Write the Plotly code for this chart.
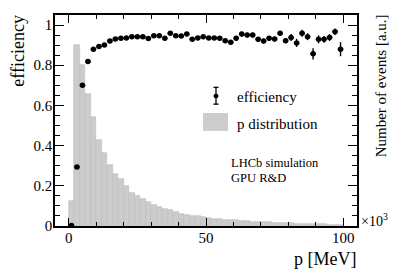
import plotly.graph_objects as go

# ---- data ----
bin_centers = [1 + 2 * i for i in range(50)]
p_distribution = [0.123, 0.901, 0.803, 0.658, 0.543, 0.430, 0.364, 0.305, 0.260, 0.232,
                  0.199, 0.164, 0.150, 0.135, 0.120, 0.104, 0.093, 0.087, 0.079, 0.068,
                  0.060, 0.054, 0.051, 0.048, 0.044, 0.040, 0.037, 0.034, 0.032, 0.030,
                  0.028, 0.026, 0.024, 0.022, 0.021, 0.019, 0.018, 0.017, 0.016, 0.015,
                  0.013, 0.012, 0.011, 0.010, 0.009, 0.008, 0.008, 0.007, 0.006, 0.005]
efficiency = [0.002, 0.293, 0.700, 0.819, 0.880, 0.893, 0.901, 0.921, 0.931, 0.934,
              0.936, 0.942, 0.942, 0.942, 0.933, 0.947, 0.947, 0.934, 0.959, 0.947,
              0.945, 0.955, 0.929, 0.936, 0.942, 0.936, 0.936, 0.934, 0.922, 0.914,
              0.934, 0.955, 0.950, 0.950, 0.929, 0.921, 0.934, 0.931, 0.959, 0.922,
              0.938, 0.911, 0.959, 0.942, 0.857, 0.929, 0.929, 0.938, 0.967, 0.880]
efficiency_err = [0.002, 0.005, 0.005, 0.003, 0.003, 0.003, 0.003, 0.003, 0.003, 0.003,
                  0.005, 0.005, 0.005, 0.005, 0.005, 0.005, 0.005, 0.005, 0.005, 0.005,
                  0.008, 0.008, 0.008, 0.008, 0.008, 0.008, 0.008, 0.008, 0.008, 0.008,
                  0.012, 0.012, 0.012, 0.012, 0.012, 0.012, 0.012, 0.012, 0.013, 0.012,
                  0.017, 0.020, 0.017, 0.017, 0.028, 0.020, 0.017, 0.017, 0.016, 0.035]
x_ticks = [0, 50, 100]

FONT = "Liberation Serif, Times New Roman, serif"

# page offset (default body margin) and plot area in page pixels
OFF = 8
W, H = 399 - OFF, 270 - OFF
L, R, T, B = 55, 357, 13, 226
def px(x):
    return (x - L) / (R - L)
def py(y):
    return (B - y) / (B - T)

fig = go.Figure()
fig.add_trace(go.Bar(x=bin_centers, y=p_distribution, width=2,
                     marker=dict(color="#cccccc", line=dict(color="#bcbcbc", width=0.6)),
                     showlegend=False))
fig.add_trace(go.Scatter(x=bin_centers, y=efficiency, mode="markers",
                         marker=dict(color="black", size=5.5),
                         error_y=dict(type="data", array=efficiency_err, color="black",
                                      thickness=1.4, width=0),
                         error_x=dict(type="constant", value=1, color="black",
                                      thickness=1.4, width=0),
                         showlegend=False))

axis_common = dict(showline=True, linecolor="black", linewidth=1.5, mirror="ticks",
                   ticks="inside", tickcolor="black", tickwidth=1.2, showgrid=False,
                   zeroline=False, tickfont=dict(family=FONT, size=15, color="black"))
fig.update_xaxes(range=[-5, 105], tickmode="array", tickvals=x_ticks, ticklen=8,
                 ticklabelstandoff=-3,
                 minor=dict(tickmode="linear", tick0=0, dtick=10, ticklen=4, ticks="inside",
                            tickcolor="black", tickwidth=1.2),
                 **axis_common)
fig.update_yaxes(range=[0, 1.05], tick0=0, dtick=0.2, ticklen=9,
                 ticklabelstandoff=-2,
                 minor=dict(dtick=0.05, ticklen=5, ticks="inside",
                            tickcolor="black", tickwidth=1.2),
                 **axis_common)

ann = []
def text(x, y, s, size, xanchor="left", angle=0, yanchor="middle"):
    ann.append(dict(x=px(x), y=py(y), xref="paper", yref="paper", text=s, showarrow=False,
                    xanchor=xanchor, yanchor=yanchor, textangle=angle,
                    font=dict(family=FONT, size=size, color="black")))

text(18, 49, "efficiency", 18, xanchor="center", angle=-90)
text(381, 85, "Number of events [a.u.]", 15, xanchor="center", angle=-90)
text(358, 259, "p [MeV]", 18, xanchor="right")
text(359, 220, "×10<sup>3</sup>", 14)
text(235, 96, "efficiency", 15)
text(235, 123, "p distribution", 15)
text(229, 162, "LHCb simulation", 12.5)
text(229, 178, "GPU R&D", 12.5)

shapes = [
    dict(type="rect", xref="paper", yref="paper", x0=px(203), x1=px(228), y0=py(112), y1=py(130),
         fillcolor="#cccccc", line=dict(width=0)),
    dict(type="line", xref="paper", yref="paper", x0=px(216), x1=px(216), y0=py(86), y1=py(103),
         line=dict(color="black", width=1.3)),
    dict(type="line", xref="paper", yref="paper", x0=px(213.5), x1=px(218.5), y0=py(86), y1=py(86),
         line=dict(color="black", width=1.3)),
    dict(type="line", xref="paper", yref="paper", x0=px(213.5), x1=px(218.5), y0=py(103), y1=py(103),
         line=dict(color="black", width=1.3)),
    dict(type="circle", xref="paper", yref="paper", x0=px(213.5), x1=px(218.5), y0=py(92.5), y1=py(97),
         fillcolor="black", line=dict(width=0)),
]

fig.update_layout(width=W, height=H, font=dict(family=FONT, color="black"),
                  margin=dict(l=L - OFF, r=W - (R - OFF), t=T - OFF, b=H - (B - OFF)),
                  plot_bgcolor="white", paper_bgcolor="white", bargap=0,
                  annotations=ann, shapes=shapes, showlegend=False)

fig.write_html("out.html")
